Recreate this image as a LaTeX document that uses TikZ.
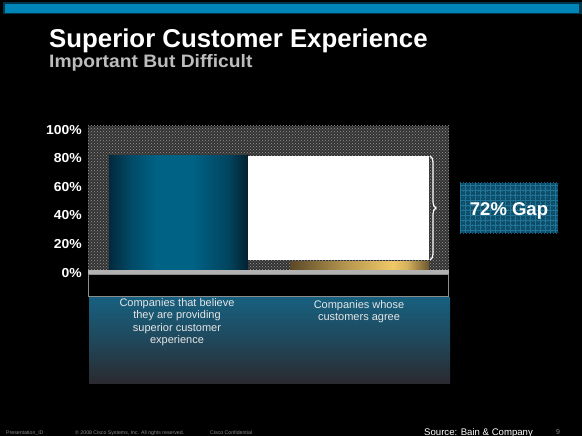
\documentclass[tikz,border=0pt]{standalone}
\usepackage{fontspec}
\setmainfont{Liberation Sans}
\newfontfamily\wideb[FakeStretch=1.07]{Liberation Sans}
\usetikzlibrary{patterns,decorations.pathreplacing}
\definecolor{topblue}{HTML}{0085B8}
\definecolor{barblueD}{HTML}{03202F}
\definecolor{barblueM}{HTML}{006285}
\definecolor{goldD}{HTML}{4A3A20}
\definecolor{goldM}{HTML}{F0C868}
\definecolor{panelTop}{HTML}{17607F}
\definecolor{panelBot}{HTML}{2A2A30}
\definecolor{gapblue}{HTML}{0B4A66}
\definecolor{gapgrid}{HTML}{2A86AA}
\definecolor{subgrey}{HTML}{BDBDBD}
\definecolor{labtxt}{HTML}{E6E6E6}
\definecolor{foot}{HTML}{8A8A8A}
\pgfdeclarehorizontalshading{bluebar}{100bp}{color(0bp)=(barblueD); color(25bp)=(barblueD!85!barblueM); color(33bp)=(barblueD!35!barblueM); color(42bp)=(barblueM); color(55bp)=(barblueM); color(68bp)=(barblueD!45!barblueM); color(75bp)=(barblueD); color(100bp)=(barblueD)}
\pgfdeclarehorizontalshading{goldbar}{100bp}{color(0bp)=(goldD); color(25bp)=(goldD!90!goldM); color(45bp)=(goldD!35!goldM); color(62bp)=(goldM); color(67bp)=(goldM!85!goldD); color(75bp)=(goldD!80!goldM); color(100bp)=(goldD)}
\tikzset{
  ylab/.style={anchor=east,text=white,font=\fontsize{13}{15}\selectfont\wideb\bfseries,inner sep=0pt},
  cat/.style={align=center,text=labtxt,font=\fontsize{11}{12.2}\selectfont,inner sep=0pt,anchor=north},
  foottxt/.style={anchor=base west,text=foot,font=\fontsize{5.2}{6}\selectfont,inner sep=0pt}
}
\begin{document}
\begin{tikzpicture}[x=1pt,y=-1pt]
\useasboundingbox (0,0) rectangle (582,436);
\fill[black] (0,0) rectangle (582,436);
% top bar
\fill[topblue!40!black] (3,2) rectangle (582,14);
\fill[topblue] (5,4) rectangle (579,13);
% title
\node[anchor=base west,inner sep=0pt,text=white,font=\fontsize{25.8}{28}\selectfont\bfseries] (title) at (49,48) {Superior Customer Experience};
\node[anchor=base west,inner sep=0pt,text=subgrey,font=\fontsize{18}{20}\selectfont\wideb\bfseries] (sub) at (49,68) {Important But Difficult};
% dotted chart area
\fill[black!80] (88,126) rectangle (449,270);
\fill[pattern=crosshatch dots,pattern color=black!40] (88,126) rectangle (449,270);
% bars
\shade[shading=bluebar] (109,156) rectangle (248,270);
\fill[white] (248,156) rectangle (429,260);
\shade[shading=goldbar] (290,261) rectangle (429,270);
% brace
\coordinate (bt) at (430,156);
\coordinate (bb) at (430,260);
\draw[white,line width=1.2pt,decorate,decoration={brace,amplitude=6pt}] (bt) -- (bb);
% baseline and black strip
\fill[black!30] (88,270) rectangle (449,274);
\draw[black!45,fill=black] (88.5,274) rectangle (448.5,296);
% bottom panel
\shade[top color=panelTop,bottom color=panelBot,middle color=panelTop!55!panelBot] (89,297) rectangle (450,383);
% y labels
\node[ylab] (l100) at (82,130) {100\%};
\node[ylab] (l80) at (82,158) {80\%};
\node[ylab] (l60) at (82,187) {60\%};
\node[ylab] (l40) at (82,215) {40\%};
\node[ylab] (l20) at (82,244) {20\%};
\node[ylab] (l0) at (82,273) {0\%};
% category labels
\node[cat] (c1) at (177,298.5) {Companies that believe\\they are providing\\superior customer\\experience};
\node[cat] (c2) at (359,300) {Companies whose\\customers agree};
% gap box
\fill[gapblue] (460,183) rectangle (558,233);
\fill[pattern=crosshatch dots,pattern color=gapgrid!60!gapblue] (460,183) rectangle (558,233);
\draw[gapgrid!70!gapblue,line width=0.4pt,step=5pt] (460,183) grid (558,233);
\node[text=white,font=\fontsize{18.5}{20}\selectfont\bfseries,inner sep=0pt] (gap) at (509,211) {72\% Gap};
% footer
\node[foottxt] (f1) at (6,434) {Presentation\_ID};
\node[foottxt] (f2) at (75,434) {\textcopyright{} 2008 Cisco Systems, Inc. All rights reserved.};
\node[foottxt] (f3) at (210,434) {Cisco Confidential};
\node[anchor=base west,inner sep=0pt,text=white,font=\fontsize{9.6}{11}\selectfont] (src) at (424,435) {Source: Bain \& Company};
\node[anchor=base west,inner sep=0pt,text=foot,font=\fontsize{7}{8}\selectfont] (pg) at (556,434) {9};
\end{tikzpicture}
\end{document}
